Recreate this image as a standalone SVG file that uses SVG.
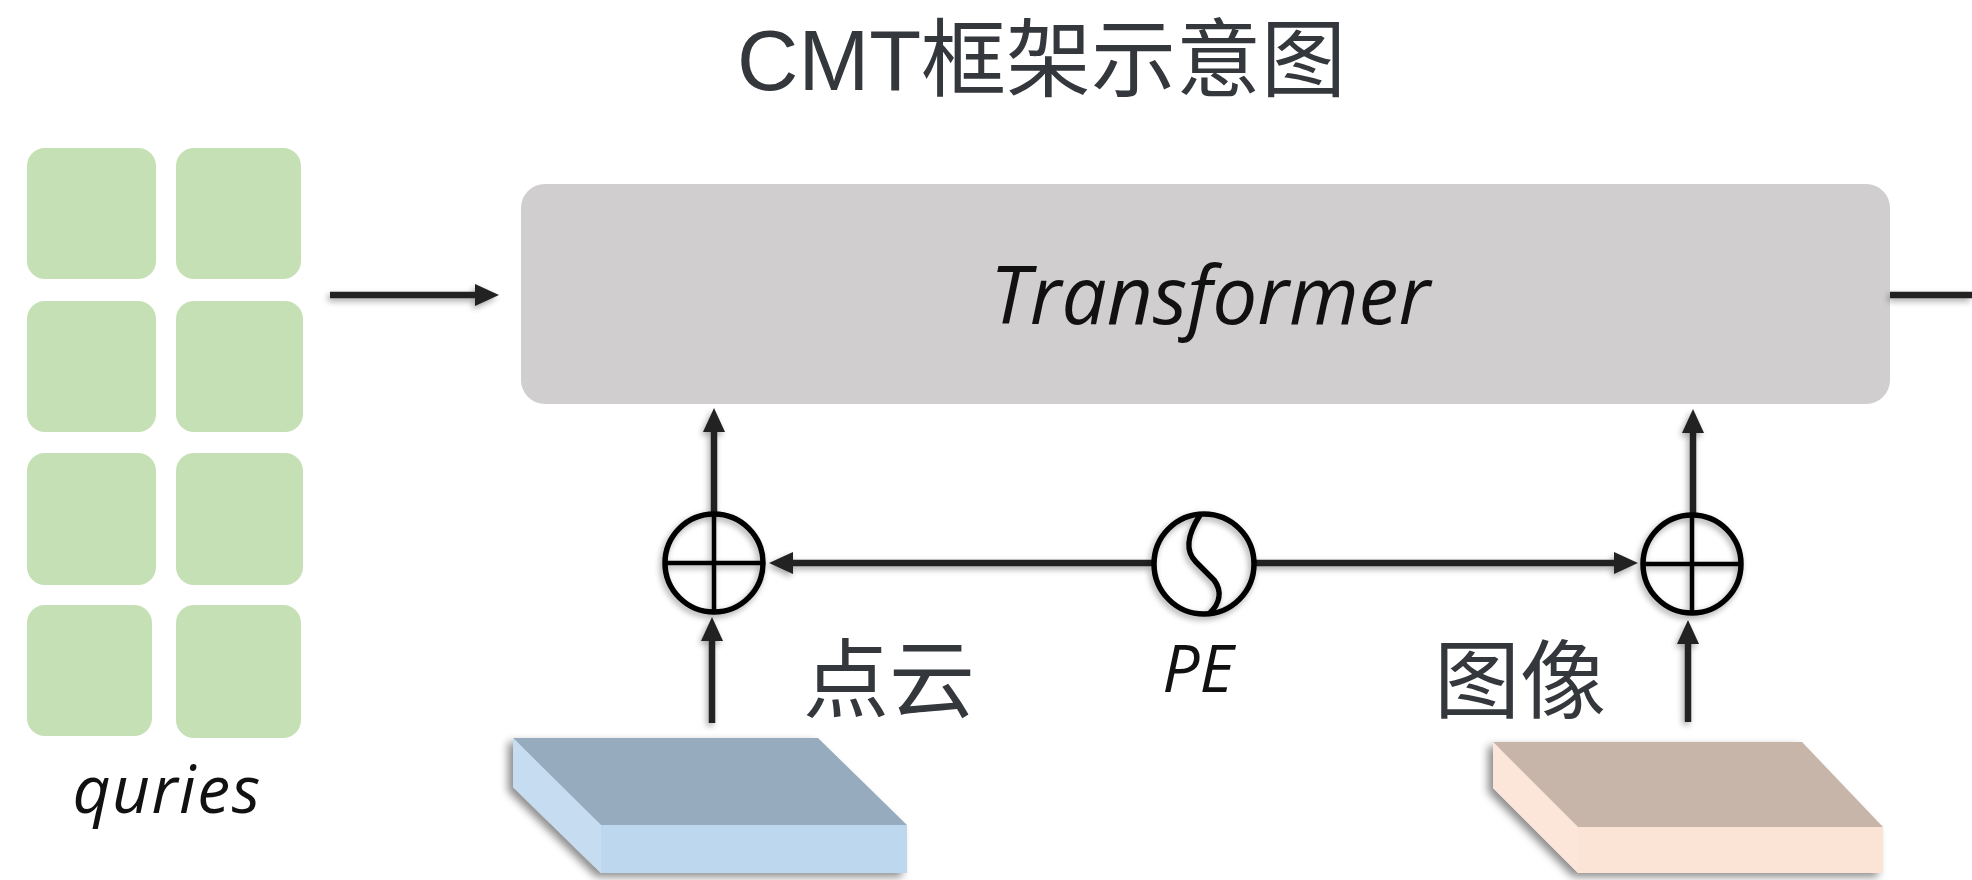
<svg xmlns="http://www.w3.org/2000/svg" width="1972" height="880" viewBox="0 0 1972 880">
  <defs>
    <style>
      .title { font-family: "Liberation Sans", "Noto Sans CJK SC", sans-serif; font-size: 85px; fill: #34373b; }
      .cjk { font-family: "Noto Sans CJK SC", sans-serif; font-size: 86px; fill: #34373b; }
      .ital { font-family: "Open Sans", "Noto Sans", sans-serif; font-style: italic; fill: #111; }
      .query { fill: #c5e0b4; }
      .wire { fill: none; stroke: #222; stroke-width: 6.5; }
      .ring { fill: none; stroke: #000; stroke-width: 5.5; }
      .cross { stroke: #000; stroke-width: 4.5; }
    </style>
    <marker id="head" viewBox="0 -12 24 24" refX="1" refY="0" markerWidth="24" markerHeight="24" markerUnits="userSpaceOnUse" orient="auto">
      <path d="M0,-11 L24,0 L0,11 Z" fill="#222"/>
    </marker>
    <filter id="lineShadow" x="-20%" y="-20%" width="140%" height="140%">
      <feGaussianBlur in="SourceAlpha" stdDeviation="3"/>
      <feOffset dx="-2" dy="3" result="b"/>
      <feComponentTransfer><feFuncA type="linear" slope="0.35"/></feComponentTransfer>
      <feMerge><feMergeNode/><feMergeNode in="SourceGraphic"/></feMerge>
    </filter>
    <filter id="slabShadow" x="-10%" y="-20%" width="120%" height="150%">
      <feGaussianBlur in="SourceAlpha" stdDeviation="4"/>
      <feOffset dx="-5" dy="4" result="b"/>
      <feComponentTransfer><feFuncA type="linear" slope="0.45"/></feComponentTransfer>
      <feMerge><feMergeNode/><feMergeNode in="SourceGraphic"/></feMerge>
    </filter>
  </defs>

  <rect width="1972" height="880" fill="#ffffff"/>

  <!-- title -->
  <text id="title" class="title" x="737" y="90">CMT框架示意图</text>

  <!-- query tokens -->
  <g id="queries">
    <rect class="query" x="27" y="148" width="129" height="131" rx="18"/>
    <rect class="query" x="176" y="148" width="125" height="131" rx="18"/>
    <rect class="query" x="27" y="301" width="129" height="131" rx="18"/>
    <rect class="query" x="176" y="301" width="127" height="131" rx="18"/>
    <rect class="query" x="27" y="453" width="129" height="132" rx="18"/>
    <rect class="query" x="176" y="453" width="127" height="132" rx="18"/>
    <rect class="query" x="27" y="605" width="125" height="131" rx="18"/>
    <rect class="query" x="176" y="605" width="125" height="133" rx="18"/>
    <text class="ital" x="167" y="813" font-size="66" text-anchor="middle" letter-spacing="1.5">quries</text>
  </g>

  <!-- transformer block -->
  <g id="transformer">
    <rect x="521" y="184" width="1369" height="220" rx="24" fill="#d0cecf"/>
    <text class="ital" x="1210" y="324" font-size="80" text-anchor="middle">Transformer</text>
  </g>

  <!-- connectors -->
  <g id="connectors" filter="url(#lineShadow)">
    <path class="wire" d="M330,295 H476" marker-end="url(#head)"/>
    <path class="wire" d="M1890,295 H1972"/>
    <path class="wire" d="M714,513 V431" marker-end="url(#head)"/>
    <path class="wire" d="M1693,513 V432" marker-end="url(#head)"/>
    <path class="wire" d="M1152,563 H792" marker-end="url(#head)"/>
    <path class="wire" d="M1256,563 H1615" marker-end="url(#head)"/>
    <path class="wire" d="M712,723 V640" marker-end="url(#head)"/>
    <path class="wire" d="M1688,722 V643" marker-end="url(#head)"/>
  </g>

  <!-- fusion points -->
  <g id="add-lidar" filter="url(#lineShadow)">
    <circle class="ring" cx="714" cy="563" r="49" fill="#fff"/>
    <line class="cross" x1="714" y1="514" x2="714" y2="612"/>
    <line class="cross" x1="665" y1="563" x2="763" y2="563"/>
  </g>
  <g id="add-image" filter="url(#lineShadow)">
    <circle class="ring" cx="1692" cy="564" r="49" fill="#fff"/>
    <line class="cross" x1="1692" y1="515" x2="1692" y2="613"/>
    <line class="cross" x1="1643" y1="564" x2="1741" y2="564"/>
  </g>

  <!-- positional encoding -->
  <g id="pe">
    <g filter="url(#lineShadow)">
      <circle class="ring" cx="1204" cy="564" r="50" fill="#fff"/>
      <path class="ring" stroke-width="4.5" d="M1200,515 C1188,534 1184,550 1196,562 L1214,580 C1223,592 1219,604 1210,613"/>
    </g>
    <text class="ital" x="1198" y="692" font-size="66" text-anchor="middle">PE</text>
  </g>

  <!-- lidar feature slab -->
  <g id="lidar-slab" filter="url(#slabShadow)">
    <polygon points="513,738 818,738 907,825 601,825" fill="#97abbe"/>
    <polygon points="601,825 907,825 907,873 601,873" fill="#bdd7ee"/>
    <polygon points="513,738 601,825 601,873 513,787" fill="#c6dcf0"/>
  </g>
  <text id="lidar-label" class="cjk" x="803" y="711">点云</text>

  <!-- image feature slab -->
  <g id="image-slab" filter="url(#slabShadow)">
    <polygon points="1493,742 1802,742 1883,827 1578,827" fill="#c7b5a9"/>
    <polygon points="1578,827 1883,827 1883,873 1578,873" fill="#fbe4d6"/>
    <polygon points="1493,742 1578,827 1578,873 1493,788" fill="#fbe6d9"/>
  </g>
  <text id="image-label" class="cjk" x="1434" y="712">图像</text>
</svg>
